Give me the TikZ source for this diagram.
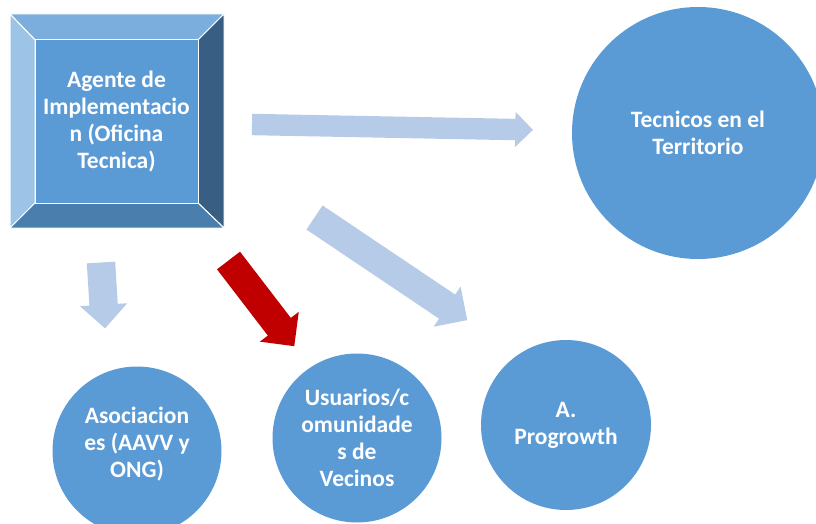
\documentclass[tikz,border=0pt]{standalone}
\usepackage{fontspec}
\setmainfont{Carlito}
\usetikzlibrary{shapes.arrows}
\definecolor{nodeblue}{HTML}{5B9BD5}
\definecolor{bevtop}{HTML}{7CAEDD}
\definecolor{bevleft}{HTML}{9DC3E6}
\definecolor{bevright}{HTML}{385F83}
\definecolor{bevbottom}{HTML}{4A7EAD}
\definecolor{arrowblue}{HTML}{B5CBE8}
\definecolor{arrowred}{HTML}{C00000}
\tikzset{
  label text/.style={text=white, font=\bfseries\fontsize{23.5}{27}\selectfont, align=center},
  bubble/.style={circle, fill=nodeblue, inner sep=0pt, label text},
  bevel/.style={draw=white, line width=1pt, line join=miter},
  flow/.style={single arrow, fill=arrowblue, inner xsep=0pt, outer sep=0pt, anchor=tail,
    single arrow head indent=0pt, shape border uses incircle=false},
}
\begin{document}
\begin{tikzpicture}[x=1pt, y=-1pt]
  \useasboundingbox (0,0) rectangle (816,524);

  % Bevelled box
  \fill[bevtop, bevel] (10,14) -- (224,14) -- (198,40) -- (35,40) -- cycle;
  \fill[bevleft, bevel] (10,14) -- (35,40) -- (35,203) -- (10,228) -- cycle;
  \fill[bevright, bevel] (224,14) -- (224,228) -- (198,203) -- (198,40) -- cycle;
  \fill[bevbottom, bevel] (10,228) -- (35,203) -- (198,203) -- (224,228) -- cycle;
  \node[rectangle, fill=nodeblue, draw=white, line width=1pt, minimum width=163pt,
    minimum height=163pt, inner sep=0pt, label text] (agente) at (116.5,121.5)
    {Agente de\\Implementacio\\n (Oficina\\Tecnica)};

  % Circles
  \node[bubble, minimum size=252pt] (tecnicos) at (698,133) {Tecnicos en el\\Territorio};
  \node[bubble, minimum size=169pt] (asoc) at (137,451) {};
  \node[label text] (asoctext) at (137,444) {Asociacion\\es (AAVV y\\ONG)};
  \node[bubble, minimum size=169pt] (usuarios) at (357,438)
    {Usuarios/c\\omunidade\\s de\\Vecinos};
  \node[bubble, minimum size=170pt] (progrowth) at (566,425) {A.\\Progrowth};

  % Block arrows
  \node[flow, minimum height=281pt, inner ysep=10.5pt, single arrow head extend=7pt,
    rotate=-1.1] (toTec) at (252,124.5) {};
  \node[flow, minimum height=184pt, inner ysep=14.3pt, single arrow head extend=9.7pt,
    rotate=-33.9] (toProg) at (314.5,217.5) {};
  \node[flow, minimum height=66pt, inner ysep=14pt, single arrow head extend=9.5pt,
    rotate=-86.5] (toAsoc) at (101,262.5) {};
  \node[flow, fill=arrowred, minimum height=108pt, inner ysep=14.3pt,
    single arrow head extend=10pt, rotate=-52.5] (toUsu) at (228.5,260.5) {};
\end{tikzpicture}
\end{document}
